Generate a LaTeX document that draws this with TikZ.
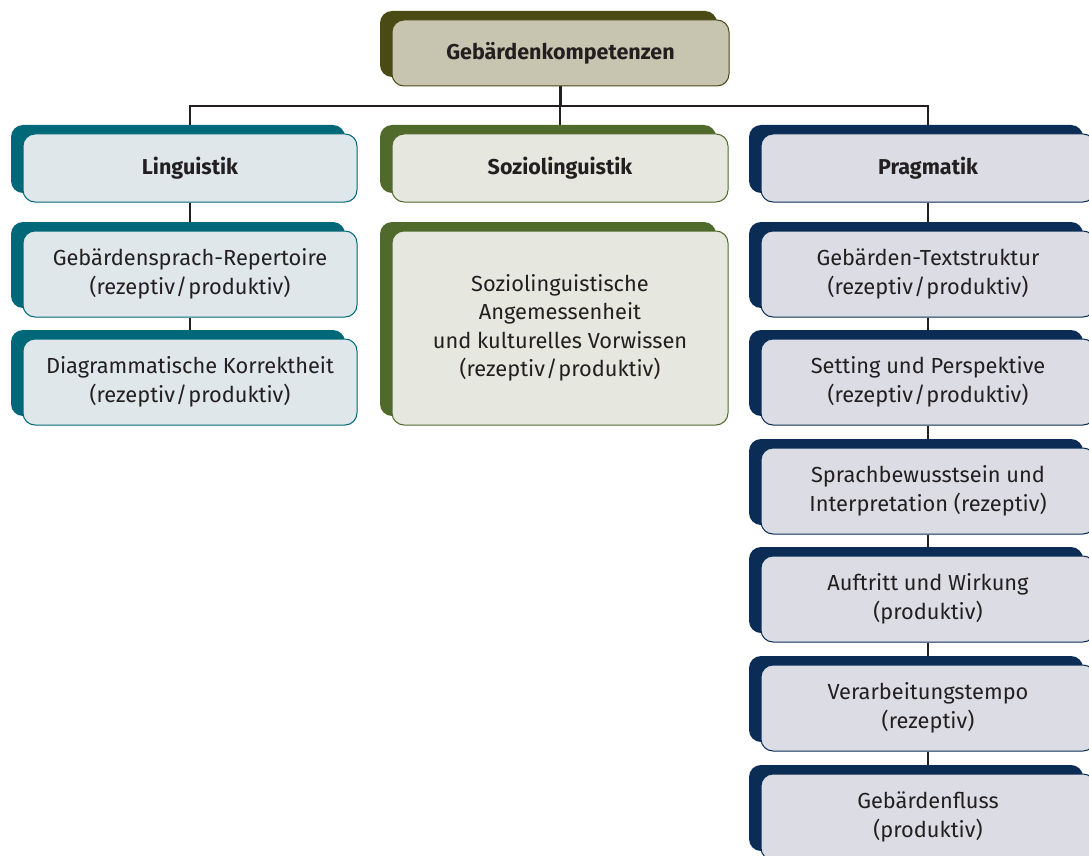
\documentclass[tikz,border=0pt]{standalone}
\usepackage{fontspec}
\setmainfont{Fira Sans}
\usetikzlibrary{shadows}

\definecolor{olivedark}{HTML}{4A4A14}
\definecolor{olivefill}{HTML}{C7C4B0}
\definecolor{tealdark}{HTML}{006878}
\definecolor{tealfill}{HTML}{DFE7EA}
\definecolor{greendark}{HTML}{506A2B}
\definecolor{greenfill}{HTML}{E6E7DE}
\definecolor{navydark}{HTML}{0B2D55}
\definecolor{navyfill}{HTML}{DCDDE4}
\definecolor{ink}{HTML}{231F20}

\pgfdeclarelayer{background}
\pgfsetlayers{background,main}

% receptive / productive with a tight slash
\newcommand{\rp}{(rezeptiv\kern1pt/\kern1pt produktiv)}

\tikzset{
  box/.style={rounded corners=12pt, draw=#1, line width=1pt, align=center,
    text=ink, inner sep=0pt, minimum width=334pt,
    font=\fontsize{21.8}{28.5}\selectfont,
    general shadow={fill=#1, shadow xshift=-12pt, shadow yshift=9pt}},
  head/.style={font=\fontsize{21.5}{28}\selectfont\bfseries, minimum height=68pt},
  item/.style={minimum height=86pt},
  topbox/.style={box=olivedark, fill=olivefill},
  lingbox/.style={box=tealdark, fill=tealfill},
  sozbox/.style={box=greendark, fill=greenfill},
  pragbox/.style={box=navydark, fill=navyfill},
  link/.style={draw=ink, line width=2.6pt}
}

\begin{document}
\begin{tikzpicture}[x=1pt,y=1pt]
\useasboundingbox (0,0) rectangle (1089,-856);
\clip (0,0) rectangle (1089,-856);

% root
\node[topbox, head, minimum width=337pt, minimum height=66pt] (root) at (560.5,-53) {Gebärdenkompetenzen};

% three branches
\node[lingbox, head] (ling) at (190,-168) {Linguistik};
\node[sozbox, head, minimum width=336pt] (soz) at (560,-168) {Soziolinguistik};
\node[pragbox, head] (prag) at (928,-168) {Pragmatik};

% Linguistik
\node[lingbox, item] (l1) at (190,-274) {Gebärdensprach-Repertoire\\\rp};
\node[lingbox, item] (l2) at (190,-382) {Diagrammatische Korrektheit\\\rp};

% Soziolinguistik
\node[sozbox, minimum width=336pt, minimum height=194pt] (s1) at (560,-328)
  {Soziolinguistische\\Angemessenheit\\und kulturelles Vorwissen\\\rp};

% Pragmatik
\node[pragbox, item] (p1) at (928,-274) {Gebärden-Textstruktur\\\rp};
\node[pragbox, item] (p2) at (928,-382) {Setting und Perspektive\\\rp};
\node[pragbox, item] (p3) at (928,-491) {Sprachbewusstsein und\\Interpretation (rezeptiv)};
\node[pragbox, item] (p4) at (928,-599) {Auftritt und Wirkung\\(produktiv)};
\node[pragbox, item] (p5) at (928,-708) {Verarbeitungstempo\\(rezeptiv)};
\node[pragbox, item] (p6) at (928,-817) {Gebärdenfluss\\(produktiv)};

\coordinate (bar) at (0,-106);

\begin{pgfonlayer}{background}
  \draw[link] (root.south) -- (root.south |- bar);
  \draw[link] (ling.north) -- (ling.north |- bar) -- (prag.north |- bar) -- (prag.north);
  \draw[link] (soz.north) -- (soz.north |- bar);
  \draw[link] (ling) -- (l1);
  \draw[link] (l1) -- (l2);
  \draw[link] (prag) -- (p1);
  \draw[link] (p1) -- (p2);
  \draw[link] (p2) -- (p3);
  \draw[link] (p3) -- (p4);
  \draw[link] (p4) -- (p5);
  \draw[link] (p5) -- (p6);
\end{pgfonlayer}
\end{tikzpicture}
\end{document}
